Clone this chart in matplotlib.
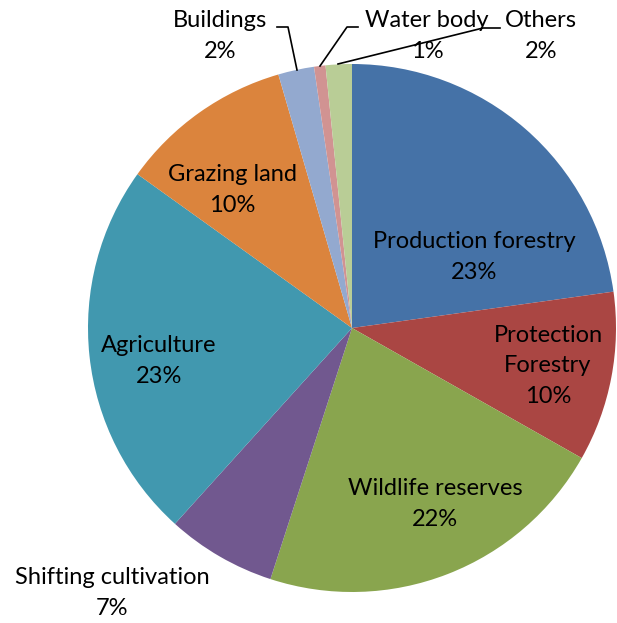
import numpy as np
import matplotlib.pyplot as plt

plt.rcParams['font.family'] = ['Lato', 'DejaVu Sans']

categorias = ['Production forestry', 'Protection\nForestry', 'Wildlife reserves',
              'Shifting cultivation', 'Agriculture', 'Grazing land',
              'Buildings', 'Water body', 'Others']
valores = [22.8, 10.4, 21.8, 6.7, 23.2, 10.6, 2.2, 0.7, 1.6]
rotulos_pct = ['23%', '10%', '22%', '7%', '23%', '10%', '2%', '1%', '2%']
cores = ['#4572A7', '#AA4643', '#89A54E', '#71588F', '#4198AF',
         '#DB843D', '#93A9CF', '#D19392', '#B9CD96']

# centro do pie em pixels e raio
cx, cy, r = 352, 328, 264
W, H = 617, 623

def px(x, y):
    return (x - cx) / r, (cy - y) / r

fig = plt.figure(figsize=(W / 100, H / 100), dpi=100)
ax = fig.add_axes([0, 0, 1, 1])
ax.pie(valores, colors=cores, startangle=90, counterclock=False,
       radius=1, center=(0, 0), wedgeprops={'linewidth': 0})
ax.set_xlim(px(0, 0)[0], px(W, 0)[0])
ax.set_ylim(px(0, H)[1], px(0, 0)[1])
ax.set_aspect('equal')
ax.axis('off')

# posicoes dos rotulos (pixels)
pos = [(474, 257), (548, 366), (435, 504), (112, 593), (159, 361),
       (232, 190), (220, 36), (427, 36), (541, 36)]
for nome, pct, (x, y) in zip(categorias, rotulos_pct, pos):
    xd, yd = px(x, y)
    ax.text(xd, yd, nome + '\n' + pct, ha='center', va='center',
            fontsize=17, linespacing=1.55, color='black')

# linhas guia
guias = [[(277, 27), (288, 27), (297, 70)],
         [(358, 27), (347, 27), (320, 66)],
         [(500, 28), (483, 28), (338, 64)]]
for g in guias:
    pts = np.array([px(x, y) for x, y in g])
    ax.plot(pts[:, 0], pts[:, 1], color='black', lw=1.2)

plt.savefig('out.png', dpi=100)
